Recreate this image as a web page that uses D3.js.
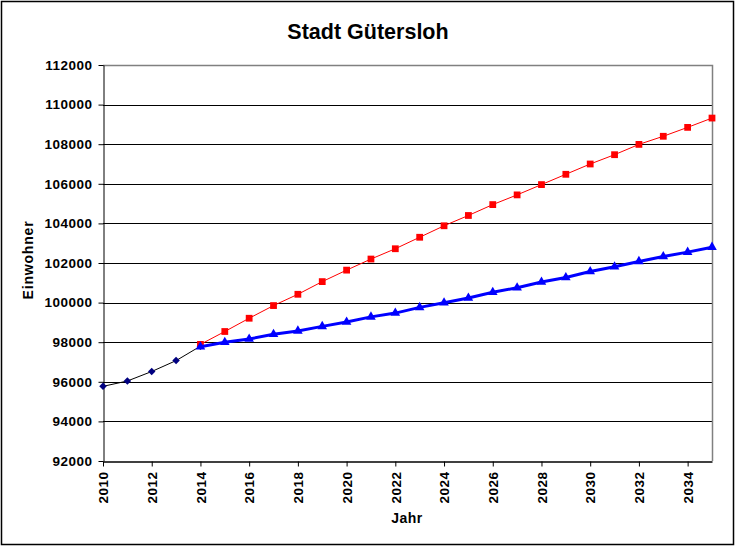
<!DOCTYPE html>
<html>
<head>
<meta charset="utf-8">
<script src="https://cdn.jsdelivr.net/npm/d3@7/dist/d3.min.js"></script>
<style>
  body { margin: 0; background: #fff; }
  text { font-family: Arial, "Liberation Sans", sans-serif; font-weight: bold; fill: #000; }
</style>
</head>
<body>
<div id="chart"></div>
<script>
// Bisherige Entwicklung
const jahreIst = [2010, 2011, 2012, 2013, 2014];
const werteIst = [95770, 96040, 96520, 97070, 97800];

// Prognosen ab 2014
const jahrePrognose = [2014, 2015, 2016, 2017, 2018, 2019, 2020, 2021, 2022, 2023, 2024,
  2025, 2026, 2027, 2028, 2029, 2030, 2031, 2032, 2033, 2034, 2035];
const werteRot = [97890, 98540, 99210, 99850, 100420, 101060, 101640, 102200, 102720, 103300, 103880,
  104400, 104950, 105440, 105960, 106480, 107000, 107470, 107990, 108400, 108850, 109320];
const werteBlau = [97770, 98000, 98160, 98400, 98570, 98800, 99020, 99280, 99470, 99760, 99990,
  100230, 100520, 100750, 101040, 101270, 101570, 101810, 102080, 102330, 102550, 102800];

const yTicks = [92000, 94000, 96000, 98000, 100000, 102000, 104000, 106000, 108000, 110000, 112000];
const xTicks = [2010, 2012, 2014, 2016, 2018, 2020, 2022, 2024, 2026, 2028, 2030, 2032, 2034];

const width = 736;
const height = 549;
const margin = { top: 65, right: 24, bottom: 88, left: 103 };
const fontTicks = "Arial, 'Liberation Sans', sans-serif";

const svg = d3.select("#chart").append("svg").attr("width", width).attr("height", height);

// Rahmen
svg.append("rect").attr("x", 1.5).attr("y", 1.5).attr("width", width - 4).attr("height", height - 6)
  .attr("fill", "#fff").attr("stroke", "#000").attr("stroke-width", 1.5);

const xScale = d3.scaleLinear().domain([2010, 2035]).range([margin.left, width - margin.right]);
const yScale = d3.scaleLinear().domain([92000, 112000]).range([height - margin.bottom, margin.top]);

// Gitterlinien
svg.append("g").selectAll("line").data(yTicks.slice(1, -1)).join("line")
  .attr("x1", margin.left).attr("x2", width - margin.right)
  .attr("y1", (d) => Math.round(yScale(d)) + 0.5).attr("y2", (d) => Math.round(yScale(d)) + 0.5)
  .attr("stroke", "#000").attr("stroke-width", 1);

// Plotrahmen oben/rechts grau
svg.append("path")
  .attr("d", `M${margin.left},${yScale(112000) + 0.5}H${xScale(2035) + 0.5}V${yScale(92000)}`)
  .attr("fill", "none").attr("stroke", "#808080").attr("stroke-width", 1.5);

// Achsen
const yAxis = svg.append("g").attr("transform", `translate(${margin.left + 0.5},0)`)
  .call(d3.axisLeft(yScale).tickValues(yTicks).tickSize(5).tickSizeOuter(0).tickPadding(6).tickFormat(d3.format("d")));
yAxis.select(".domain").attr("stroke", "#000");
yAxis.selectAll("text").style("font-size", "13.5px").style("font-family", fontTicks).style("letter-spacing", "0.5px");

const xAxis = svg.append("g").attr("transform", `translate(0,${yScale(92000) + 0.5})`)
  .call(d3.axisBottom(xScale).tickValues(xTicks).tickSize(5).tickSizeOuter(0).tickFormat(d3.format("d")));
xAxis.select(".domain").attr("stroke", "#000").attr("stroke-width", 1.5);
xAxis.selectAll("text").style("font-size", "13.5px").style("font-family", fontTicks).style("letter-spacing", "0.5px")
  .attr("transform", "rotate(-90)").attr("text-anchor", "end").attr("x", -10).attr("y", 0).attr("dy", "0.35em");

// Titel und Achsentitel
svg.append("text").attr("x", 368).attr("y", 39).attr("text-anchor", "middle").style("font-size", "21.5px").text("Stadt Gütersloh");
svg.append("text").attr("x", 407).attr("y", 523).attr("text-anchor", "middle").style("font-size", "14px")
  .style("letter-spacing", "0.5px").text("Jahr");
svg.append("text").attr("transform", `translate(33,${(margin.top + height - margin.bottom) / 2 - 3}) rotate(-90)`)
  .attr("text-anchor", "middle").style("font-size", "14px").style("letter-spacing", "0.8px").text("Einwohner");

const ist = jahreIst.map((j, i) => ({ jahr: j, wert: werteIst[i] }));
const rot = jahrePrognose.map((j, i) => ({ jahr: j, wert: werteRot[i] }));
const blau = jahrePrognose.map((j, i) => ({ jahr: j, wert: werteBlau[i] }));

const line = d3.line().x((d) => xScale(d.jahr)).y((d) => yScale(d.wert));

// Ist-Werte
svg.append("path").datum(ist).attr("fill", "none").attr("stroke", "#000").attr("stroke-width", 1).attr("d", line);
svg.selectAll("path.ist").data(ist).join("path").attr("class", "ist")
  .attr("d", d3.symbol(d3.symbolSquare, 28))
  .attr("transform", (d) => `translate(${xScale(d.jahr)},${yScale(d.wert)}) rotate(45)`)
  .attr("fill", "#000080");

// Prognose rot
svg.append("path").datum(rot).attr("fill", "none").attr("stroke", "#ff0000").attr("stroke-width", 1).attr("d", line);
svg.selectAll("path.rot").data(rot).join("path").attr("class", "rot")
  .attr("d", d3.symbol(d3.symbolSquare, 46))
  .attr("transform", (d) => `translate(${xScale(d.jahr)},${yScale(d.wert)})`)
  .attr("fill", "#ff0000");

// Prognose blau
svg.append("path").datum(blau).attr("fill", "none").attr("stroke", "#0000ff").attr("stroke-width", 3).attr("d", line);
svg.selectAll("path.blau").data(blau).join("path").attr("class", "blau")
  .attr("d", d3.symbol(d3.symbolTriangle, 40))
  .attr("transform", (d) => `translate(${xScale(d.jahr)},${yScale(d.wert)})`)
  .attr("fill", "#0000ff");
</script>
</body>
</html>
